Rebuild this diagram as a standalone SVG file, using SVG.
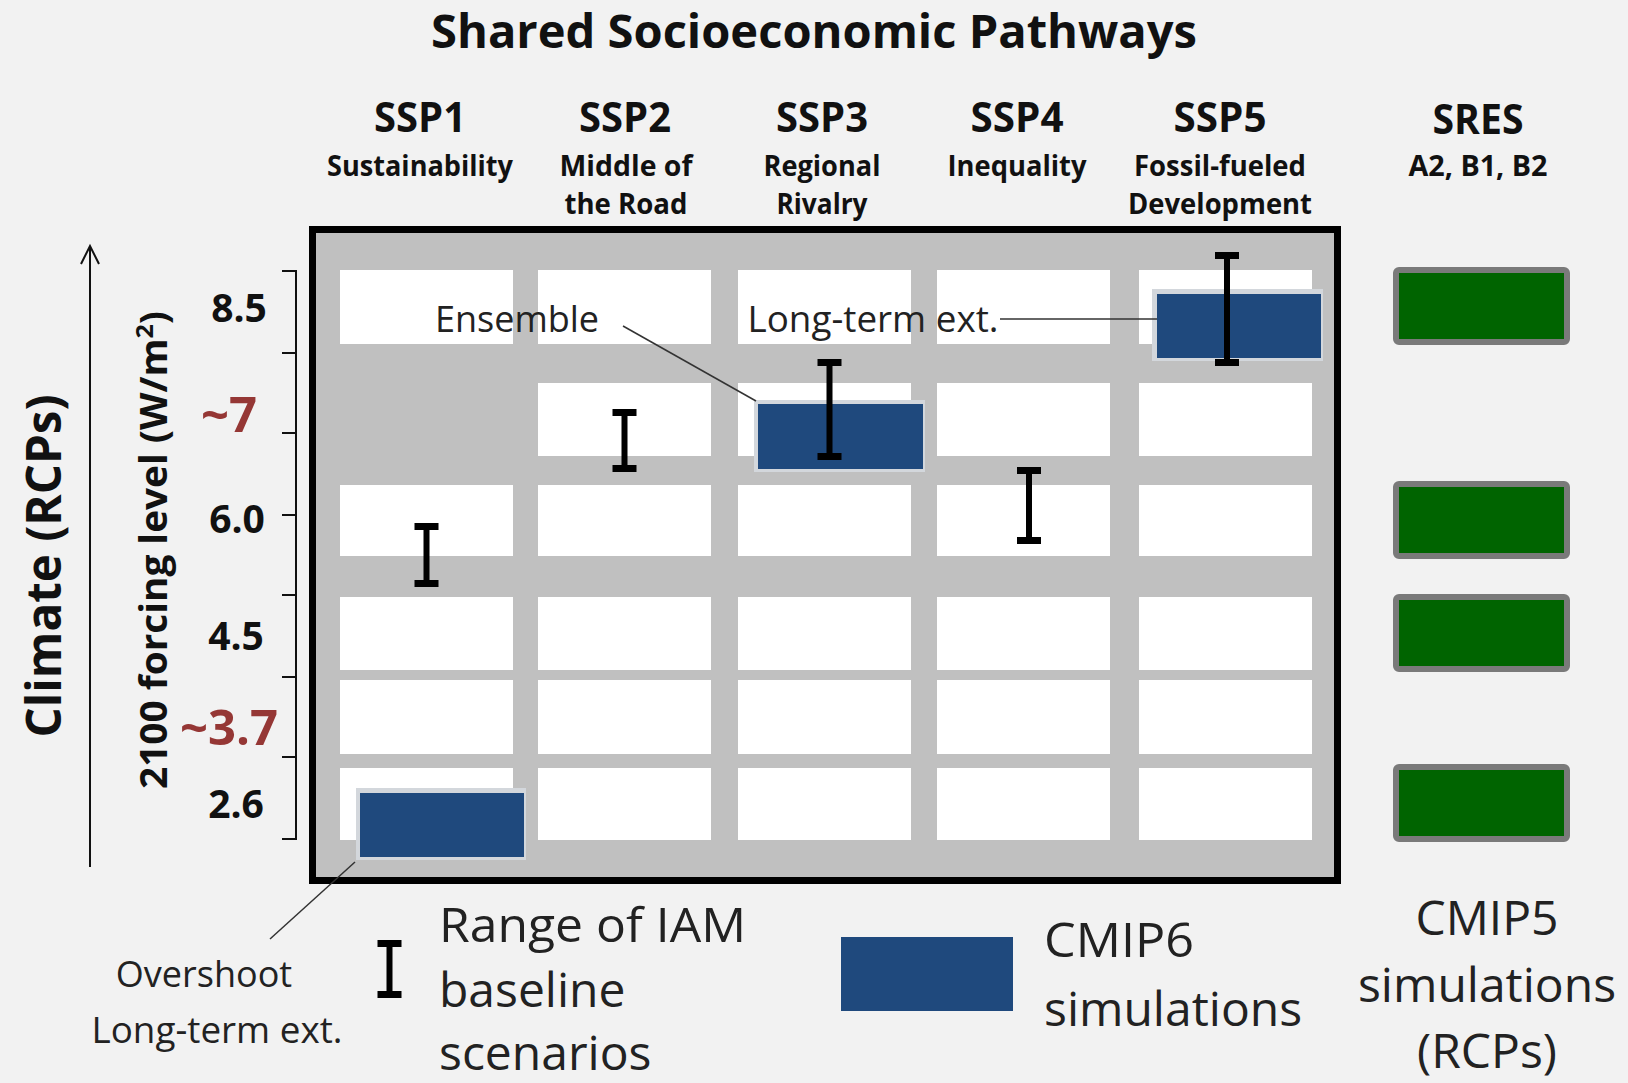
<svg xmlns="http://www.w3.org/2000/svg" width="1628" height="1083" viewBox="0 0 1628 1083">
<style>
.bg{fill:#f2f2f2}
.cell{fill:#ffffff}
.cmip6{fill:#1f497d}
.halo{fill:#d3d7dc}
.cmip5{fill:#006400;stroke:#7a7a7a;stroke-width:6}
.bar{fill:#000}
.h{font-family:"Open Sans","Liberation Sans",sans-serif;font-weight:700;fill:#111;text-anchor:middle}
.t{font-family:"Open Sans","Liberation Sans",sans-serif;font-weight:400;fill:#222;text-anchor:middle}
.s{text-anchor:start}
.red{fill:#953735}
.ln{stroke:#333;stroke-width:1.5;fill:none}
.ax{stroke:#111;stroke-width:2;fill:none}
</style>
<rect class="bg" x="0" y="0" width="1628" height="1083"/>

<g id="title">
<text class="h" x="814" y="48" font-size="47" textLength="766" lengthAdjust="spacingAndGlyphs">Shared Socioeconomic Pathways</text>
</g>

<g id="headers">
<g id="ssp1-head"><text class="h" x="420" y="132" font-size="41" textLength="92" lengthAdjust="spacingAndGlyphs">SSP1</text>
<text class="h" x="420" y="176" font-size="29" textLength="186" lengthAdjust="spacingAndGlyphs">Sustainability</text></g>
<g id="ssp2-head"><text class="h" x="625" y="132" font-size="41" textLength="92" lengthAdjust="spacingAndGlyphs">SSP2</text>
<text class="h" x="626" y="176" font-size="29" textLength="133" lengthAdjust="spacingAndGlyphs">Middle of</text>
<text class="h" x="626" y="214" font-size="29" textLength="123" lengthAdjust="spacingAndGlyphs">the Road</text></g>
<g id="ssp3-head"><text class="h" x="822" y="132" font-size="41" textLength="92" lengthAdjust="spacingAndGlyphs">SSP3</text>
<text class="h" x="822" y="176" font-size="29" textLength="117" lengthAdjust="spacingAndGlyphs">Regional</text>
<text class="h" x="822" y="214" font-size="29" textLength="91" lengthAdjust="spacingAndGlyphs">Rivalry</text></g>
<g id="ssp4-head"><text class="h" x="1017" y="132" font-size="41" textLength="93" lengthAdjust="spacingAndGlyphs">SSP4</text>
<text class="h" x="1017" y="176" font-size="29" textLength="139" lengthAdjust="spacingAndGlyphs">Inequality</text></g>
<g id="ssp5-head"><text class="h" x="1220" y="132" font-size="41" textLength="93" lengthAdjust="spacingAndGlyphs">SSP5</text>
<text class="h" x="1220" y="176" font-size="29" textLength="172" lengthAdjust="spacingAndGlyphs">Fossil-fueled</text>
<text class="h" x="1220" y="214" font-size="29" textLength="184" lengthAdjust="spacingAndGlyphs">Development</text></g>
<g id="sres-head"><text class="h" x="1478" y="134" font-size="41" textLength="91" lengthAdjust="spacingAndGlyphs">SRES</text>
<text class="h" x="1478" y="176" font-size="29" textLength="139" lengthAdjust="spacingAndGlyphs">A2, B1, B2</text></g>
</g>

<g id="axis">
<text class="h" transform="translate(61,566) rotate(-90)" font-size="48" textLength="343" lengthAdjust="spacingAndGlyphs">Climate (RCPs)</text>
<line class="ax" x1="90" y1="867" x2="90" y2="247"/>
<polyline class="ax" points="81,264 90,246 99,264"/>
<text class="h" transform="translate(167,550) rotate(-90)" font-size="37" font-weight="600" textLength="478" lengthAdjust="spacingAndGlyphs">2100 forcing level (W/m<tspan font-size="24" dy="-14">2</tspan><tspan dy="14">)</tspan></text>
<path class="ax" stroke-width="1.5" d="M282 271H296V839H282M282 353H296M282 433H296M282 515H296M282 595H296M282 677H296M282 757H296"/>
<text class="h" x="239" y="322" font-size="39">8.5</text>
<text class="h red" x="229" y="432" font-size="49">~7</text>
<text class="h" x="237" y="533" font-size="39">6.0</text>
<text class="h" x="236" y="650" font-size="39">4.5</text>
<text class="h red" x="229" y="745" font-size="49">~3.7</text>
<text class="h" x="236" y="818" font-size="39">2.6</text>
</g>

<g id="matrix">
<rect x="312.5" y="229.5" width="1025" height="651" fill="#c0c0c0" stroke="#000" stroke-width="7"/>
<g id="row-85">
<rect class="cell" x="340" y="270" width="173" height="74"/>
<rect class="cell" x="538" y="270" width="173" height="74"/>
<rect class="cell" x="738" y="270" width="173" height="74"/>
<rect class="cell" x="937" y="270" width="173" height="74"/>
<rect class="cell" x="1139" y="270" width="173" height="74"/>
</g>
<g id="row-7">
<rect class="cell" x="538" y="383" width="173" height="73"/>
<rect class="cell" x="738" y="383" width="173" height="73"/>
<rect class="cell" x="937" y="383" width="173" height="73"/>
<rect class="cell" x="1139" y="383" width="173" height="73"/>
</g>
<g id="row-60">
<rect class="cell" x="340" y="485" width="173" height="71"/>
<rect class="cell" x="538" y="485" width="173" height="71"/>
<rect class="cell" x="738" y="485" width="173" height="71"/>
<rect class="cell" x="937" y="485" width="173" height="71"/>
<rect class="cell" x="1139" y="485" width="173" height="71"/>
</g>
<g id="row-45">
<rect class="cell" x="340" y="597" width="173" height="73"/>
<rect class="cell" x="538" y="597" width="173" height="73"/>
<rect class="cell" x="738" y="597" width="173" height="73"/>
<rect class="cell" x="937" y="597" width="173" height="73"/>
<rect class="cell" x="1139" y="597" width="173" height="73"/>
</g>
<g id="row-37">
<rect class="cell" x="340" y="680" width="173" height="74"/>
<rect class="cell" x="538" y="680" width="173" height="74"/>
<rect class="cell" x="738" y="680" width="173" height="74"/>
<rect class="cell" x="937" y="680" width="173" height="74"/>
<rect class="cell" x="1139" y="680" width="173" height="74"/>
</g>
<g id="row-26">
<rect class="cell" x="340" y="768" width="173" height="72"/>
<rect class="cell" x="538" y="768" width="173" height="72"/>
<rect class="cell" x="738" y="768" width="173" height="72"/>
<rect class="cell" x="937" y="768" width="173" height="72"/>
<rect class="cell" x="1139" y="768" width="173" height="72"/>
</g>
</g>

<g id="cmip6-ssp1-26"><rect class="halo" x="356" y="788" width="170" height="72"/><rect class="cmip6" x="360" y="793" width="164" height="64"/></g>
<g id="cmip6-ssp3-7"><rect class="halo" x="754" y="400" width="171" height="72"/><rect class="cmip6" x="758" y="404" width="165" height="65"/></g>
<g id="cmip6-ssp5-85"><rect class="halo" x="1152" y="289" width="171" height="72"/><rect class="cmip6" x="1157" y="294" width="164" height="64"/></g>

<g id="ranges">
<path class="bar" d="M414.5 523h24v7h-9v50h9v7h-24v-7h9v-50h-9z"/>
<path class="bar" d="M612.5 409h24v7h-9v49h9v7h-24v-7h9v-49h-9z"/>
<path class="bar" d="M817.5 359h24v7h-9v87h9v7h-24v-7h9v-87h-9z"/>
<path class="bar" d="M1017 467h24v7h-9v63h9v7h-24v-7h9v-63h-9z"/>
<path class="bar" d="M1215 252h24v7h-9v100h9v7h-24v-7h9v-100h-9z"/>
</g>

<g id="cmip5">
<rect class="cmip5" x="1396" y="270" width="171" height="72" rx="3"/>
<rect class="cmip5" x="1396" y="484" width="171" height="72" rx="3"/>
<rect class="cmip5" x="1396" y="597" width="171" height="72" rx="3"/>
<rect class="cmip5" x="1396" y="767" width="171" height="72" rx="3"/>
</g>

<g id="connectors">
<line class="ln" x1="623" y1="326" x2="756" y2="401"/>
<line class="ln" x1="1000" y1="319" x2="1157" y2="319"/>
<line class="ln" x1="270" y1="939" x2="355" y2="862"/>
</g>

<g id="annotations">
<text class="t" x="517" y="332" font-size="36">Ensemble</text>
<text class="t" x="873" y="332" font-size="36" textLength="251" lengthAdjust="spacingAndGlyphs">Long-term ext.</text>
<text class="t" x="204" y="987" font-size="36">Overshoot</text>
<text class="t" x="217" y="1043" font-size="36" textLength="251" lengthAdjust="spacingAndGlyphs">Long-term ext.</text>
</g>

<g id="legend">
<g id="legend-range">
<path class="bar" d="M377.5 940h24v7h-9v44h9v7h-24v-7h9v-44h-9z"/>
<text class="t s" x="439" y="942" font-size="48" textLength="307" lengthAdjust="spacingAndGlyphs">Range of IAM</text>
<text class="t s" x="439" y="1007" font-size="48">baseline</text>
<text class="t s" x="439" y="1070" font-size="48">scenarios</text>
</g>
<g id="legend-cmip6">
<rect class="cmip6" x="841" y="937" width="172" height="74"/>
<text class="t s" x="1044" y="957" font-size="48" textLength="150" lengthAdjust="spacingAndGlyphs">CMIP6</text>
<text class="t s" x="1044" y="1026" font-size="48">simulations</text>
</g>
<g id="legend-cmip5">
<text class="t" x="1487" y="935" font-size="48">CMIP5</text>
<text class="t" x="1487" y="1002" font-size="48">simulations</text>
<text class="t" x="1487" y="1068" font-size="48">(RCPs)</text>
</g>
</g>
</svg>
